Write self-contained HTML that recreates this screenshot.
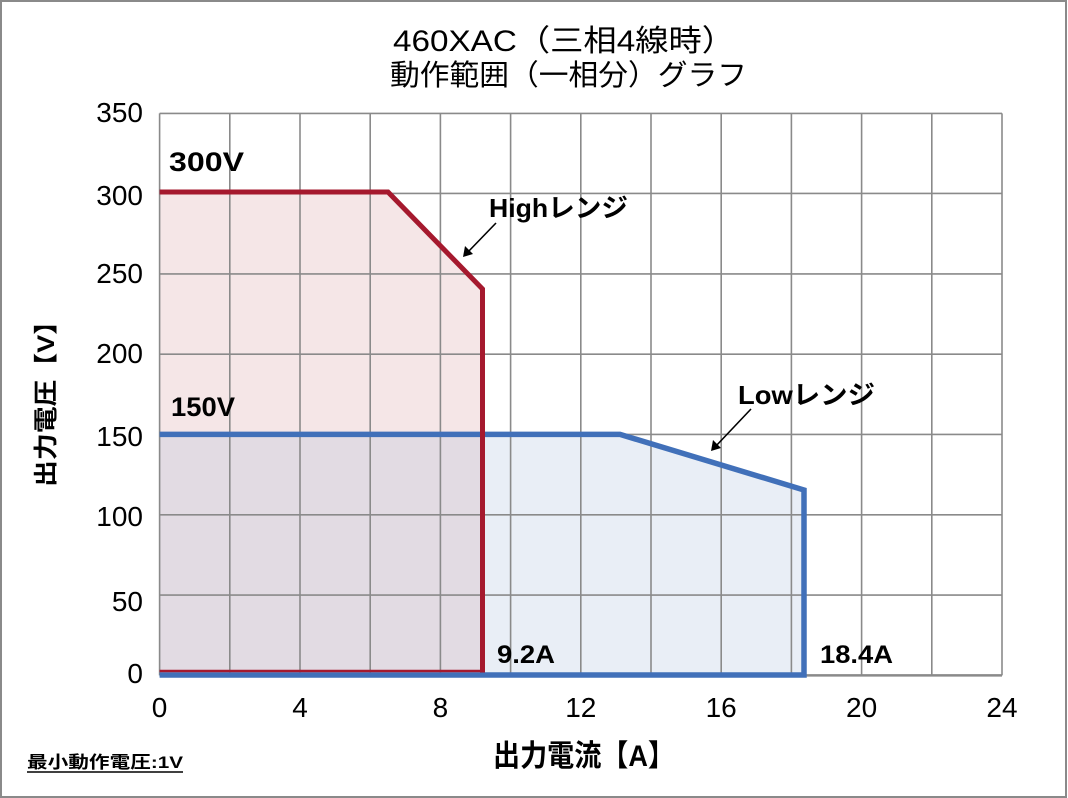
<!DOCTYPE html>
<html><head><meta charset="utf-8"><style>
html,body{margin:0;padding:0;background:#fff;}
svg{display:block;}
text{font-family:"Liberation Sans","Noto Sans CJK JP",sans-serif;fill:#000;}
</style></head><body>
<svg width="1068" height="798" viewBox="0 0 1068 798" xmlns="http://www.w3.org/2000/svg">
<rect x="0" y="0" width="1068" height="798" fill="#fff"/>
<rect x="1" y="1" width="1065" height="796" fill="none" stroke="#8a8a8a" stroke-width="2"/>

<!-- title -->
<text x="393" y="51" font-size="30" textLength="342" lengthAdjust="spacingAndGlyphs">460XAC（三相4線時）</text>
<text x="390" y="85" font-size="29" textLength="357" lengthAdjust="spacingAndGlyphs">動作範囲（一相分）グラフ</text>

<!-- fills -->
<polygon points="159.6,192 388,192 482.5,289 482.5,675 159.6,675" fill="#f5e6e7"/>
<polygon points="159.6,434.4 620,434.4 804,490 804,675 159.6,675" fill="#e9eef6"/>
<rect x="159.6" y="434.4" width="322.9" height="240.6" fill="#e2dbe3"/>

<!-- grid -->
<g stroke="#8a8a8a" stroke-width="1.6" fill="none">
<line x1="159.6" y1="113.4" x2="159.6" y2="675.4"/>
<line x1="229.8" y1="113.4" x2="229.8" y2="675.4"/>
<line x1="300" y1="113.4" x2="300" y2="675.4"/>
<line x1="370.2" y1="113.4" x2="370.2" y2="675.4"/>
<line x1="440.4" y1="113.4" x2="440.4" y2="675.4"/>
<line x1="510.6" y1="113.4" x2="510.6" y2="675.4"/>
<line x1="580.8" y1="113.4" x2="580.8" y2="675.4"/>
<line x1="651" y1="113.4" x2="651" y2="675.4"/>
<line x1="721.2" y1="113.4" x2="721.2" y2="675.4"/>
<line x1="791.4" y1="113.4" x2="791.4" y2="675.4"/>
<line x1="861.6" y1="113.4" x2="861.6" y2="675.4"/>
<line x1="931.8" y1="113.4" x2="931.8" y2="675.4"/>
<line x1="1002" y1="113.4" x2="1002" y2="675.4"/>
<line x1="159.6" y1="113.4" x2="1002" y2="113.4"/>
<line x1="159.6" y1="193.4" x2="1002" y2="193.4"/>
<line x1="159.6" y1="273.9" x2="1002" y2="273.9"/>
<line x1="159.6" y1="354.2" x2="1002" y2="354.2"/>
<line x1="159.6" y1="434.4" x2="1002" y2="434.4"/>
<line x1="159.6" y1="514.8" x2="1002" y2="514.8"/>
<line x1="159.6" y1="595.1" x2="1002" y2="595.1"/>
</g>
<line x1="159.6" y1="675.4" x2="1002" y2="675.4" stroke="#8a8a8a" stroke-width="2.5"/>

<!-- series -->
<polyline points="159.6,434.4 620,434.4 804,490 804,675 159.6,675" fill="none" stroke="#4170b9" stroke-width="5.5" stroke-linejoin="miter"/>
<polyline points="159.6,192 388,192 482.5,289 482.5,672.5" fill="none" stroke="#a5192e" stroke-width="5" stroke-linejoin="miter"/>
<line x1="159.6" y1="671" x2="480" y2="671" stroke="#a5192e" stroke-width="2.5"/>

<!-- arrows -->
<g stroke="#000" stroke-width="1.6">
<line x1="496" y1="223" x2="467" y2="253"/>
<line x1="751" y1="409" x2="715" y2="447"/>
</g>
<polygon points="463,257 465,246 473,254" fill="#000"/>
<polygon points="711,451 713,440 721,448" fill="#000"/>

<!-- annotations -->
<text x="169" y="171" font-size="27" font-weight="bold" textLength="75" lengthAdjust="spacingAndGlyphs">300V</text>
<text x="171" y="416" font-size="27" font-weight="bold" textLength="64" lengthAdjust="spacingAndGlyphs">150V</text>
<text x="489" y="217" font-size="26" font-weight="bold" textLength="139" lengthAdjust="spacingAndGlyphs">Highレンジ</text>
<text x="738" y="404" font-size="26" font-weight="bold" textLength="137" lengthAdjust="spacingAndGlyphs">Lowレンジ</text>
<text x="497" y="663" font-size="25" font-weight="bold" textLength="58" lengthAdjust="spacingAndGlyphs">9.2A</text>
<text x="820" y="663" font-size="25" font-weight="bold" textLength="73" lengthAdjust="spacingAndGlyphs">18.4A</text>

<!-- y ticks -->
<g font-size="28" text-anchor="end">
<text x="143" y="122">350</text>
<text x="143" y="205">300</text>
<text x="143" y="283">250</text>
<text x="143" y="363">200</text>
<text x="143" y="446">150</text>
<text x="143" y="526">100</text>
<text x="143" y="611">50</text>
<text x="143" y="683">0</text>
</g>
<!-- x ticks -->
<g font-size="28" text-anchor="middle">
<text x="159.6" y="717">0</text>
<text x="300" y="717">4</text>
<text x="440.4" y="717">8</text>
<text x="580.8" y="717">12</text>
<text x="721.2" y="717">16</text>
<text x="861.6" y="717">20</text>
<text x="1002" y="717">24</text>
</g>

<!-- axis titles -->
<text x="493" y="766" font-size="30" font-weight="bold" textLength="182" lengthAdjust="spacingAndGlyphs">出力電流【A】</text>
<text transform="translate(44,397.5) rotate(-90)" x="0" y="10" font-size="24" font-weight="bold" text-anchor="middle" textLength="179" lengthAdjust="spacingAndGlyphs">出力電圧【V】</text>

<!-- note -->
<text x="27" y="768" font-size="17" font-weight="bold" textLength="156" lengthAdjust="spacingAndGlyphs">最小動作電圧:1V</text>
<line x1="27" y1="772" x2="183" y2="772" stroke="#000" stroke-width="1.5"/>
</svg>
</body></html>
